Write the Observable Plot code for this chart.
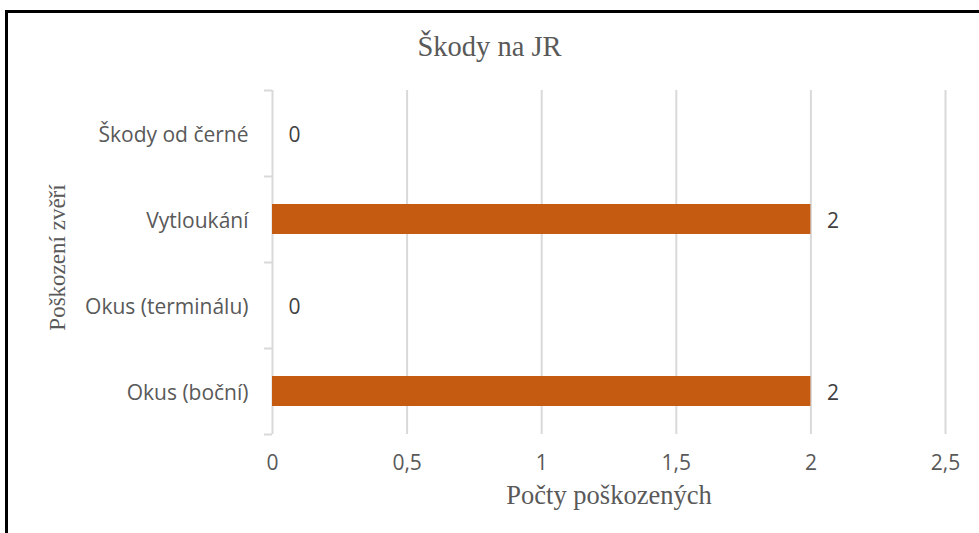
<!DOCTYPE html>
<html>
<head>
<meta charset="utf-8">
<script src="https://cdn.jsdelivr.net/npm/d3@7"></script>
<script src="https://cdn.jsdelivr.net/npm/@observablehq/plot@0.6"></script>
<style>
  html, body { margin: 0; padding: 0; background: #fff; overflow: hidden; width: 979px; height: 533px; }
  #frame { position: absolute; left: 5px; top: 10px; width: 1100px; height: 700px; border: 3px solid #000; pointer-events: none; }
  #title { position: absolute; left: 0; top: 31px; width: 979px; text-align: center; font-family: "Liberation Serif", serif; font-size: 28.5px; line-height: 32px; color: #595959; }
  #chart { position: absolute; left: 0; top: 75px; }
</style>
</head>
<body>
<div id="title">Škody na JR</div>
<div id="chart"></div>
<div id="frame"></div>
<script>
const categories = ["Škody od černé", "Vytloukání", "Okus (terminálu)", "Okus (boční)"];
const values = [0, 2, 0, 2];
const xTicks = [0, 0.5, 1, 1.5, 2, 2.5];
const xLabel = ["Počty poškozených"];
const yLabel = ["Poškození zvěří"];

const data = categories.map((c, i) => ({cat: c, value: values[i]}));
const fmt = d => String(d).replace(".", ",");

const W = 979, H = 458, mT = 15, mB = 99, mL = 272, mR = 34;
const step = (H - mT - mB) / categories.length;
const gridColor = "#d9d9d9";
const sans = "'Open Sans', sans-serif";
const serif = "'Liberation Serif', serif";

const chart = Plot.plot({
  width: W,
  height: H,
  marginTop: mT,
  marginBottom: mB,
  marginLeft: mL,
  marginRight: mR,
  style: {background: "#fff", color: "#595959", fontFamily: sans, overflow: "visible"},
  x: {domain: [0, 2.5]},
  y: {domain: categories, paddingInner: 0.65, paddingOuter: 0.325},
  marks: [
    Plot.ruleX(xTicks.slice(1), {stroke: gridColor, strokeWidth: 2, strokeOpacity: 1}),
    Plot.ruleX([0], {stroke: gridColor, strokeWidth: 2, strokeOpacity: 1}),
    Plot.ruleY(categories, {y: d => d, x1: 0, x2: 0, insetLeft: -8, dy: -step / 2, stroke: gridColor, strokeWidth: 2}),
    Plot.ruleY(categories.slice(-1), {y: d => d, x1: 0, x2: 0, insetLeft: -8, dy: step / 2, stroke: gridColor, strokeWidth: 2}),
    Plot.barX(data, {x: "value", y: "cat", fill: "#C55A11"}),
    Plot.text(data, {x: "value", y: "cat", text: d => fmt(d.value), dx: 16, dy: 2, textAnchor: "start", fontSize: 21, fill: "#404040", fontFamily: sans}),
    Plot.axisX(xTicks, {tickSize: 0, tickPadding: 21, tickFormat: fmt, fontSize: 21, fill: "#595959", label: null, fontFamily: sans}),
    Plot.axisY({tickSize: 0, tickPadding: 24, dy: 2, fontSize: 21, fill: "#595959", label: null, fontFamily: sans}),
    Plot.text(xLabel, {frameAnchor: "bottom", dy: 69, lineAnchor: "bottom", fontSize: 26.5, fontFamily: serif, fill: "#595959"}),
    Plot.text(yLabel, {frameAnchor: "left", dx: -208, dy: -5, rotate: -90, lineAnchor: "bottom", textAnchor: "middle", fontSize: 23, fontFamily: serif, fill: "#595959"})
  ]
});
document.getElementById("chart").appendChild(chart);
</script>
</body>
</html>
